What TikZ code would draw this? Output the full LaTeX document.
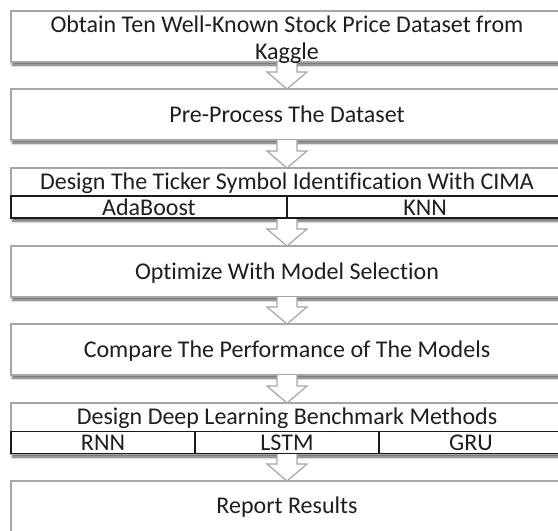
\documentclass[tikz,border=0pt]{standalone}
\usepackage{fontspec}
\setmainfont{Carlito}[Ligatures=NoCommon]
\usetikzlibrary{shadows.blur}

\definecolor{edgegray}{HTML}{A6A6A6}
\definecolor{inkblack}{HTML}{1E1E1E}
\definecolor{cellblack}{HTML}{1A1A1A}

\tikzset{
  stepbox/.style={draw=edgegray, line width=1.2pt, fill=white,
    minimum width=552pt, inner sep=0pt, outer sep=0pt,
    blur shadow={shadow xshift=1.5pt, shadow yshift=-3pt,
      shadow blur radius=2.5pt, shadow opacity=65}},
  cellbox/.style={draw=cellblack, line width=1.6pt, fill=white,
    minimum height=22pt, inner sep=0pt, outer sep=0pt},
  steptext/.style={text=inkblack, inner sep=0pt, anchor=base,
    font=\fontsize{24}{27}\selectfont},
  flowarrow/.style={draw=edgegray, line width=1.2pt, fill=white, line join=miter}
}

% hollow block arrow from the bottom of one step to the top of the next
\newcommand\steparrow[2]{%
  \path[flowarrow]
    ([xshift=-10pt]#1.south)
    -- ([xshift=-10pt,yshift=17pt]#2.north)
    -- ([xshift=-20pt,yshift=17pt]#2.north)
    -- (#2.north)
    -- ([xshift=20pt,yshift=17pt]#2.north)
    -- ([xshift=10pt,yshift=17pt]#2.north)
    -- ([xshift=10pt]#1.south);%
}

\begin{document}
\begin{tikzpicture}[x=1pt,y=-1pt]
\useasboundingbox (0,0) rectangle (558,531);
\clip (0,0) rectangle (558,531);

% step boxes (positions in pixels of the page)
\node[stepbox, minimum height=51pt] (s1) at (287,36.5) {};
\node[stepbox, minimum height=51pt] (s2) at (287,114.5) {};
\node[stepbox, minimum height=50pt] (s3) at (287,193) {};
\node[stepbox, minimum height=51pt] (s4) at (287,271.5) {};
\node[stepbox, minimum height=51pt] (s5) at (287,349.5) {};
\node[stepbox, minimum height=51pt] (s6) at (287,428.5) {};
\node[stepbox, minimum height=80pt] (s7) at (287,521) {};

% connecting arrows
\steparrow{s1}{s2}
\steparrow{s2}{s3}
\steparrow{s3}{s4}
\steparrow{s4}{s5}
\steparrow{s5}{s6}
\steparrow{s6}{s7}

% texts of the steps
\node[steptext] (t1a) at (287,32.5) {Obtain Ten Well-Known Stock Price Dataset from};
\node[steptext] (t1b) at (287,59) {Kaggle};
\node[steptext] (t2) at (287,122.5) {Pre-Process The Dataset};
\node[steptext] (t3) at (287,189.5) {Design The Ticker Symbol Identification With CIMA};
\node[steptext] (t4) at (287,279.5) {Optimize With Model Selection};
\node[steptext] (t5) at (287,357.5) {Compare The Performance of The Models};
\node[steptext] (t6) at (287,424.5) {Design Deep Learning Benchmark Methods};
\node[steptext] (t7) at (287,513) {Report Results};

% classifier row of the CIMA step
\node[cellbox, minimum width=276pt] (ada) at (149,207) {};
\node[cellbox, minimum width=276pt] (knn) at (425,207) {};
\node[steptext] (tada) at (ada.center) [yshift=-8pt] {AdaBoost};
\node[steptext] (tknn) at (knn.center) [yshift=-8pt] {KNN};

% benchmark row of the deep learning step
\node[cellbox, minimum width=184pt] (rnn)  at (103,442.5) {};
\node[cellbox, minimum width=184pt] (lstm) at (287,442.5) {};
\node[cellbox, minimum width=184pt] (gru)  at (471,442.5) {};
\node[steptext] (trnn) at (rnn.center) [yshift=-8pt] {RNN};
\node[steptext] (tlstm) at (lstm.center) [yshift=-8pt] {LSTM};
\node[steptext] (tgru) at (gru.center) [yshift=-8pt] {GRU};
\end{tikzpicture}
\end{document}
